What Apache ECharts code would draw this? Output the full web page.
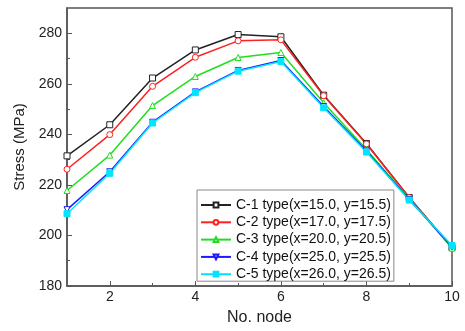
<!DOCTYPE html>
<html><head><meta charset="utf-8">
<script src="https://cdn.jsdelivr.net/npm/echarts@6/dist/echarts.min.js"></script>
<style>html,body{margin:0;padding:0;background:#fff}#c{width:465px;height:331px}</style>
</head><body><div id="c"></div>
<script>
var nodes = [1,2,3,4,5,6,7,8,9,10];
var seriesNames = ['C-1 type(x=15.0, y=15.5)','C-2 type(x=17.0, y=17.5)','C-3 type(x=20.0, y=20.5)','C-4 type(x=25.0, y=25.5)','C-5 type(x=26.0, y=26.5)'];
var c1 = [231.5, 243.8, 262.3, 273.4, 279.5, 278.6, 255.5, 236.4, 215.0, 195.2];
var c2 = [226.2, 239.9, 259.0, 270.5, 277.0, 277.4, 255.3, 236.2, 215.0, 195.0];
var c3 = [217.8, 231.8, 251.4, 262.9, 270.4, 272.4, 252.5, 234.0, 214.5, 195.0];
var c4 = [210.2, 225.2, 244.8, 256.8, 265.3, 269.2, 251.0, 233.4, 214.2, 195.5];
var c5 = [208.6, 224.6, 244.5, 256.5, 265.0, 268.8, 250.5, 233.0, 214.0, 196.0];
var yTicks = [180,200,220,240,260,280];
var yMinor = [190,210,230,250,270];
var xTicks = [2,4,6,8,10];
var xMinor = [3,5,7,9];

var colors = ['#222222','#ff2020','#22dd22','#1a1aff','#00e5ff'];
var symbols = ['rect','circle','triangle','path://M0,0 L10,0 L5,9 Z','rect'];
var fills = [false,false,false,false,true];
var datasets = [c1,c2,c3,c4,c5];

var series = datasets.map(function(d,i){
  return {
    name: seriesNames[i], type:'line', xAxisIndex:0, yAxisIndex:0,
    data: nodes.map(function(n,k){return [n,d[k]];}),
    symbol: symbols[i], symbolSize: 6,
    showAllSymbol:true,
    lineStyle:{color:colors[i], width:1.5},
    itemStyle:{color: fills[i]?colors[i]:'#fff', borderColor:colors[i], borderWidth:1},
    emphasis:{disabled:true}, animation:false
  };
});

var chart = echarts.init(document.getElementById('c'));
chart.setOption({
  animation:false,
  grid:{left:67,right:13,top:8,bottom:41,show:true,borderColor:'#555',borderWidth:1.5,backgroundColor:'transparent'},
  xAxis:[{
    type:'value', min:1, max:10, interval:1,
    name:'No. node', nameLocation:'middle', nameGap:24,
    nameTextStyle:{fontFamily:'Liberation Sans',fontSize:16,color:'#222'},
    axisLine:{show:true,lineStyle:{color:'#555',width:1.5}},
    axisTick:{show:true,inside:true,length:5,customValues:xTicks,lineStyle:{color:'#555'}},
    axisLabel:{customValues:xTicks,fontFamily:'Liberation Sans',fontSize:14,color:'#222',margin:4},
    splitLine:{show:false}
  },{
    type:'value', min:1, max:10, interval:1, position:'bottom',
    axisLine:{show:false},
    axisTick:{show:true,inside:true,length:3,customValues:xMinor,lineStyle:{color:'#555'}},
    axisLabel:{show:false}, splitLine:{show:false}
  }],
  yAxis:[{
    type:'value', min:180, max:290, interval:10,
    name:'Stress (MPa)', nameLocation:'middle', nameGap:36,
    nameTextStyle:{fontFamily:'Liberation Sans',fontSize:15,color:'#222'},
    axisLine:{show:true,lineStyle:{color:'#555',width:1.5}},
    axisTick:{show:true,inside:true,length:5,customValues:yTicks,lineStyle:{color:'#555'}},
    axisLabel:{customValues:yTicks,fontFamily:'Liberation Sans',fontSize:14,color:'#222',margin:5},
    splitLine:{show:false}
  },{
    type:'value', min:180, max:290, interval:10, position:'left',
    axisLine:{show:false},
    axisTick:{show:true,inside:true,length:3,customValues:yMinor,lineStyle:{color:'#555'}},
    axisLabel:{show:false}, splitLine:{show:false}
  }],
  legend:{
    orient:'vertical', left:197, top:190,
    itemWidth:30, itemHeight:6, itemGap:3.3,
    padding:[8,3,0,3],
    borderColor:'#888', borderWidth:1, backgroundColor:'#fff',
    textStyle:{fontFamily:'Liberation Sans',fontSize:14,color:'#111',padding:[0,0,0,0]},
    data: seriesNames
  },
  series: series
});
</script></body></html>
